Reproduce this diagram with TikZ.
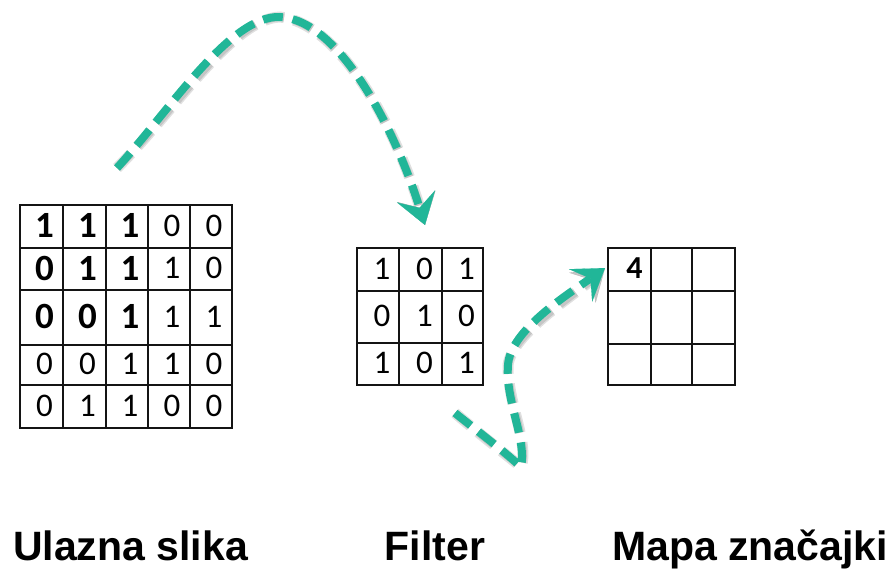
\documentclass[tikz,border=0pt]{standalone}
\usepackage{fontspec}
\setmainfont{Liberation Sans}
\newfontfamily\digitfont{Carlito}
\usetikzlibrary{arrows.meta}
\definecolor{flow}{RGB}{33,182,152}
\definecolor{gridline}{RGB}{20,20,20}
\newcommand\digreg{\digitfont\fontsize{33}{33}\selectfont}
\newcommand\digbold{\digitfont\bfseries\fontsize{37}{37}\selectfont}
\begin{document}
\begin{tikzpicture}[x=1pt,y=-1pt,
  cell/.style={draw=gridline, line width=2.4pt, inner sep=0pt, outer sep=0pt},
  digit/.style={inner sep=0pt},
  caption/.style={anchor=base, inner sep=0pt, font=\bfseries\fontsize{41}{41}\selectfont},
  flowtip/.style={-{Stealth[length=30pt,width=40pt,inset=12pt,line width=0.1pt]}},
  flowline/.style={flowtip, draw=flow, line width=8pt, dash pattern=on 20pt off 10pt},
  flowshadow/.style={flowtip, draw=black, line width=#1, dash pattern=on 20pt off 10pt,
    xshift=2.5pt, yshift=-3.5pt, draw opacity=0.12, fill opacity=0.12},
]
\useasboundingbox (0,0) rectangle (895,570);

% input image, 5x5 (row 3 is taller)
\foreach \r/\ya/\yb in {1/205/248,2/248/290,3/290/345,4/345/385,5/385/428}
  \foreach \c/\xa/\xb in {1/20/63,2/63/106,3/106/148,4/148/190,5/190/232}{
    \pgfmathsetmacro\w{\xb-\xa}
    \pgfmathsetmacro\h{\yb-\ya}
    \node[cell, minimum width=\w pt, minimum height=\h pt] (in-\r-\c)
      at ({(\xa+\xb)/2},{(\ya+\yb)/2}) {};
  }
\foreach \r/\c/\v/\f in {
  1/1/1/\digbold,1/2/1/\digbold,1/3/1/\digbold,1/4/0/\digreg,1/5/0/\digreg,
  2/1/0/\digbold,2/2/1/\digbold,2/3/1/\digbold,2/4/1/\digreg,2/5/0/\digreg,
  3/1/0/\digbold,3/2/0/\digbold,3/3/1/\digbold,3/4/1/\digreg,3/5/1/\digreg,
  4/1/0/\digreg,4/2/0/\digreg,4/3/1/\digreg,4/4/1/\digreg,4/5/0/\digreg,
  5/1/0/\digreg,5/2/1/\digreg,5/3/1/\digreg,5/4/0/\digreg,5/5/0/\digreg}
  \node[digit] (in-\r-\c-v) at ([xshift=3pt,yshift=1pt]in-\r-\c.center) {\f\v};

% filter, 3x3
\foreach \r/\ya/\yb in {1/248/291,2/291/343,3/343/385}
  \foreach \c/\xa/\xb in {1/357/399,2/399/442,3/442/483}{
    \pgfmathsetmacro\w{\xb-\xa}
    \pgfmathsetmacro\h{\yb-\ya}
    \node[cell, minimum width=\w pt, minimum height=\h pt] (f-\r-\c)
      at ({(\xa+\xb)/2},{(\ya+\yb)/2}) {};
  }
\foreach \r/\c/\v in {1/1/1,1/2/0,1/3/1,2/1/0,2/2/1,2/3/0,3/1/1,3/2/0,3/3/1}
  \node[digit] (f-\r-\c-v) at ([xshift=4pt,yshift=1pt]f-\r-\c.center) {\digreg\v};

% feature map, 3x3
\foreach \r/\ya/\yb in {1/248/291,2/291/344,3/344/385}
  \foreach \c/\xa/\xb in {1/608/651,2/651/692,3/692/735}{
    \pgfmathsetmacro\w{\xb-\xa}
    \pgfmathsetmacro\h{\yb-\ya}
    \node[cell, minimum width=\w pt, minimum height=\h pt] (m-\r-\c)
      at ({(\xa+\xb)/2},{(\ya+\yb)/2}) {};
  }
\node[digit] (m-1-1-v) at ([xshift=5pt,yshift=1.5pt]m-1-1.center)
  {\digitfont\bfseries\fontsize{32}{32}\selectfont 4};

% captions
\node[caption] (cap-in)  at (130.5,560) {Ulazna slika};
\node[caption] (cap-f)   at (435,560)   {Filter};
\node[caption] (cap-map) at (750,560)   {Mapa značajki};

% dashed flow arrows
\coordinate (a1s) at (117,168);
\coordinate (a1top) at (280,17);
\coordinate (a1e) at (425,225);
\coordinate (a2s) at (455,413);
\coordinate (a2low) at (521,467);
\coordinate (a2mid) at (508,365);
\coordinate (a2e) at (605,268);

\foreach \lw in {11pt,8pt}{
  \draw[flowshadow=\lw] (a1s) .. controls (170,110) and (230,15) .. (a1top)
    .. controls (340,20) and (395,130) .. (a1e);
  \draw[flowshadow=\lw] (a2s) .. controls (480,433) and (505,452) .. (a2low)
    .. controls (527,440) and (505,400) .. (a2mid)
    .. controls (510,330) and (570,293) .. (a2e);
}
\draw[flowline] (a1s) .. controls (170,110) and (230,15) .. (a1top)
  .. controls (340,20) and (395,130) .. (a1e);
\draw[flowline] (a2s) .. controls (480,433) and (505,452) .. (a2low)
  .. controls (527,440) and (505,400) .. (a2mid)
  .. controls (510,330) and (570,293) .. (a2e);
\end{tikzpicture}
\end{document}
